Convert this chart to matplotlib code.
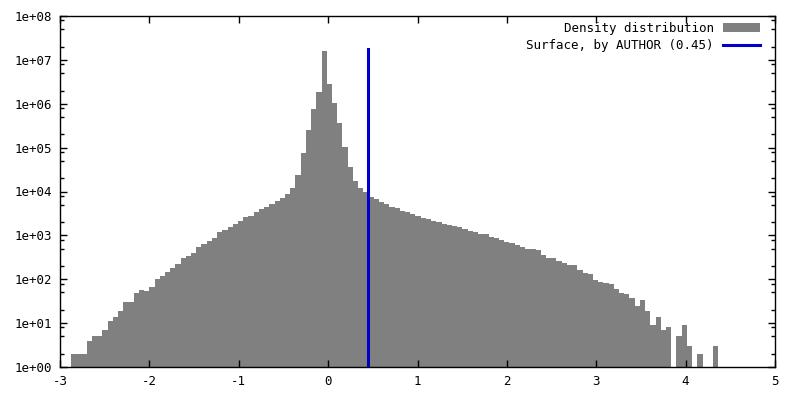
"""
Density histogram with surface marker, gnuplot look
"""

import matplotlib
matplotlib.use("Agg")
import matplotlib.pyplot as plt
import matplotlib.ticker as mticker
import numpy as np

# histogram: first bin edge, bin width and counts per bin
bin_start = -2.877
bin_width = 0.0584
counts = [
    2, 2, 2, 4, 5, 5, 7, 11, 14, 19,
    31, 31, 49, 58, 55, 67, 103, 120, 148, 183,
    226, 309, 345, 405, 550, 648, 760, 890, 1219, 1350,
    1585, 1860, 2170, 2690, 2820, 3470, 4070, 4540, 5320, 6200,
    7270, 9000, 12300, 24400, 74000, 246000, 748000, 1.83e6, 1.58e7, 2.79e6,
    1.03e6, 358000, 106000, 35300, 17800, 12300, 9500, 7690, 6920, 5900,
    5320, 4540, 4300, 3680, 3470, 3140, 2820, 2550, 2400, 2170,
    2060, 1860, 1760, 1670, 1585, 1430, 1285, 1219, 1096, 1096,
    935, 890, 800, 720, 680, 615, 550, 498, 498, 472,
    363, 309, 309, 265, 238, 214, 214, 165, 141, 134,
    97, 88, 83, 79, 61, 49, 47, 38, 25, 34,
    19, 9, 14, 7, 8, 0, 5, 9, 3, 0,
    2, 0, 0, 3,
]

# surface position and height of its marker line
surface_x = 0.45
surface_top = 1.8e7

x_ticks = [-3, -2, -1, 0, 1, 2, 3, 4, 5]
y_ticks = [10.0 ** k for k in range(0, 9)]

plt.rcParams["font.family"] = ["DejaVu Sans Mono"]
plt.rcParams["font.size"] = 9

fig = plt.figure(figsize=(8, 4), dpi=100)
ax = fig.add_axes([0.075, 0.0825, 0.89375, 0.8775])

edges = bin_start + bin_width * np.arange(len(counts))
bars = ax.bar(edges, counts, width=bin_width, align="edge", color="#808080",
              linewidth=0, label="Density distribution")
line, = ax.plot([surface_x, surface_x], [1, surface_top], color="#0000c8",
                linewidth=2.2, label="Surface, by AUTHOR (0.45)")

ax.set_yscale("log")
ax.set_xlim(-3, 5)
ax.set_ylim(1, 1e8)
ax.set_xticks(x_ticks)
ax.set_xticklabels([str(t) for t in x_ticks])
ax.yaxis.set_major_locator(mticker.FixedLocator(y_ticks))
ax.yaxis.set_major_formatter(
    mticker.FuncFormatter(lambda v, p: "1e+%02d" % int(round(np.log10(v)))))
ax.yaxis.set_minor_locator(mticker.LogLocator(base=10, subs=[2, 5, 8]))
ax.yaxis.set_minor_formatter(mticker.NullFormatter())

ax.tick_params(which="both", direction="in", top=True, right=True, width=1)
ax.tick_params(which="major", length=5, pad=6)
ax.tick_params(which="minor", length=3)
ax.tick_params(axis="x", which="minor", bottom=False, top=False)
for s in ax.spines.values():
    s.set_linewidth(1)

# legend: histogram first, line second, samples on the right
ax.legend([bars, line], ["Density distribution", "Surface, by AUTHOR (0.45)"],
          loc="upper right", bbox_to_anchor=(0.9916, 1.0085),
          frameon=False, markerfirst=False,
          handlelength=3.0, handletextpad=0.7, labelspacing=0.35,
          borderaxespad=0.3, fontsize=9)

plt.savefig("out.png", dpi=100)
plt.close()
